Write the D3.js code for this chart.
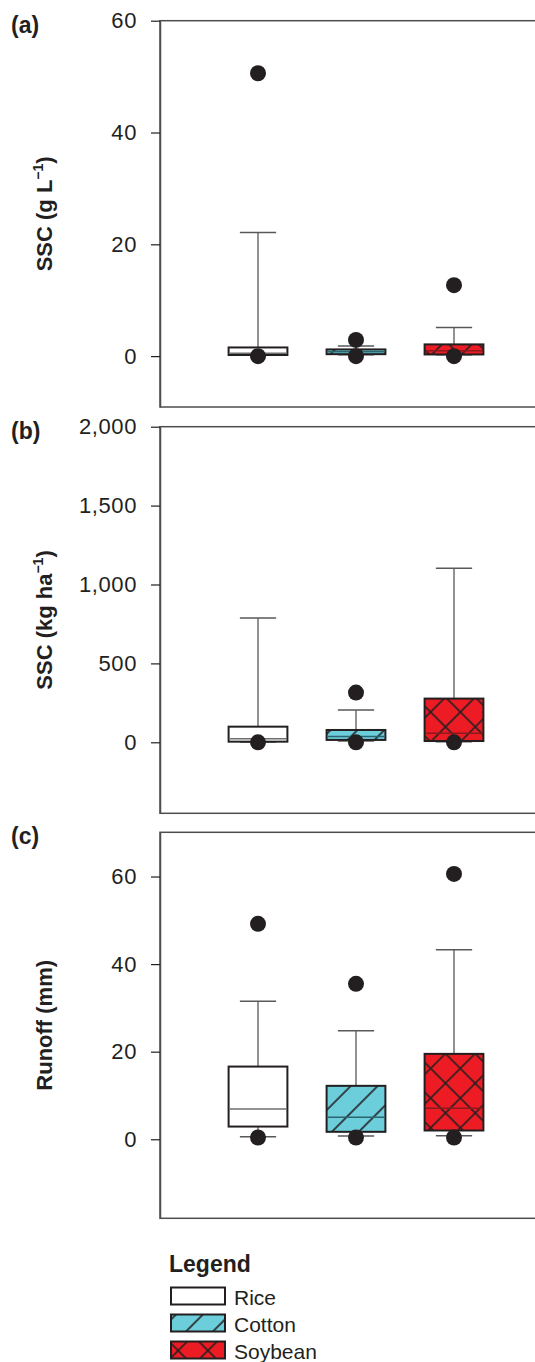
<!DOCTYPE html>
<html>
<head>
<meta charset="utf-8">
<script src="https://cdn.jsdelivr.net/npm/d3@7"></script>
<style>
  body { margin: 0; background: #fff; }
  svg { display: block; }
</style>
</head>
<body>
<div id="chart"></div>
<script>
// crops and the stats of each box: [lowDot, lowWhisker, q1, median, q3, highWhisker, highDot]
var crops = ["Rice", "Cotton", "Soybean"];

// (a) SSC, g/L
var sscConc = [
  [0.0, 0.15, 0.2, 0.5, 1.55, 22.1, 50.6],
  [0.0, 0.25, 0.35, 0.77, 1.2, 1.8, 2.9],
  [0.0, 0.25, 0.3, 0.95, 2.1, 5.1, 12.7]
];
// (b) SSC, kg/ha
var sscLoad = [
  [0, 2, 4, 23, 99, 788, null],
  [0, 8, 15, 36, 78, 205, 315],
  [0, 4, 8, 57, 277, 1103, null]
];
// (c) runoff, mm
var runoff = [
  [0.4, 0.6, 2.9, 6.9, 16.6, 31.5, 49.2],
  [0.4, 0.75, 1.7, 5.0, 12.2, 24.8, 35.5],
  [0.4, 0.8, 2.0, 7.1, 19.5, 43.3, 60.6]
];

var ticksA = [0, 20, 40, 60];
var ticksB = [0, 500, 1000, 1500, 2000];
var ticksC = [0, 20, 40, 60];

var svg = d3.select("#chart")
  .append("svg")
    .attr("width", 535)
    .attr("height", 1362);

var defs = svg.append("defs");

// hatch for cotton
var pc = defs.append("pattern")
    .attr("id", "hatchCotton")
    .attr("patternUnits", "userSpaceOnUse")
    .attr("width", 19).attr("height", 19)
    .attr("patternTransform", "rotate(45)");
pc.append("rect").attr("width", 19).attr("height", 19).attr("fill", "#6ccddb");
pc.append("line").attr("x1", 9).attr("y1", 0).attr("x2", 9).attr("y2", 19)
    .attr("stroke", "#231f20").attr("stroke-width", 1.6);

// cross hatch for soybean
var ps = defs.append("pattern")
    .attr("id", "hatchSoy")
    .attr("patternUnits", "userSpaceOnUse")
    .attr("width", 21).attr("height", 21)
    .attr("patternTransform", "rotate(45)");
ps.append("rect").attr("width", 21).attr("height", 21).attr("fill", "#ed1c24");
ps.append("line").attr("x1", 10).attr("y1", 0).attr("x2", 10).attr("y2", 21)
    .attr("stroke", "#231f20").attr("stroke-width", 1.6);
ps.append("line").attr("x1", 0).attr("y1", 10).attr("x2", 21).attr("y2", 10)
    .attr("stroke", "#231f20").attr("stroke-width", 1.6);

var fills = ["#ffffff", "url(#hatchCotton)", "url(#hatchSoy)"];
var medColor = ["#6d6e71", "#2a6670", "#8a1a1d"];
var font = "'Liberation Sans', Arial, sans-serif";

var x = d3.scaleLinear().domain([0, 4]).range([160, 552]);
var boxW = x(0.6) - x(0);
var capW = x(0.37) - x(0);

var panels = [
  {label: "(a)", top: 20.7, bottom: 407, domain: [-9.1, 60], ticks: ticksA, data: sscConc, fmt: d3.format("d"), title: ["SSC (g L", "\u22121", ")"]},
  {label: "(b)", top: 426.7, bottom: 813.3, domain: [-450, 2000], ticks: ticksB, data: sscLoad, fmt: d3.format(","), title: ["SSC (kg ha", "\u22121", ")"]},
  {label: "(c)", top: 832.3, bottom: 1218.3, domain: [-18.05, 70.1], ticks: ticksC, data: runoff, fmt: d3.format("d"), title: ["Runoff (mm)", "", ""]}
];

panels.forEach(function(p) {
  var y = d3.scaleLinear().domain(p.domain).range([p.bottom, p.top]);
  var g = svg.append("g");

  // frame
  g.append("rect")
    .attr("x", x(0)).attr("y", p.top)
    .attr("width", x(4) - x(0)).attr("height", p.bottom - p.top)
    .attr("fill", "none")
    .attr("stroke", "#4d4d4f")
    .attr("stroke-width", 1.5);

  // y axis
  var ax = g.append("g")
    .attr("transform", "translate(" + x(0) + ",0)")
    .call(d3.axisLeft(y).tickValues(p.ticks).tickFormat(p.fmt)
      .tickSizeInner(9).tickSizeOuter(0).tickPadding(14));
  ax.select(".domain").attr("stroke", "#4d4d4f").attr("stroke-width", 1.5);
  ax.selectAll(".tick line").attr("stroke", "#231f20").attr("stroke-width", 1.2);
  ax.selectAll(".tick text")
    .style("font-family", font)
    .style("font-size", "22px")
    .style("letter-spacing", "0.6px")
    .attr("fill", "#231f20");

  // panel letter
  g.append("text")
    .attr("x", 11).attr("y", p.top + 12)
    .style("font-family", font)
    .style("font-weight", "bold")
    .style("font-size", "23px")
    .attr("fill", "#231f20")
    .text(p.label);

  // y title
  var mid = (p.top + p.bottom) / 2;
  var t = g.append("text")
    .attr("transform", "translate(52," + mid + ") rotate(-90)")
    .attr("text-anchor", "middle")
    .style("font-family", font)
    .style("font-weight", "bold")
    .style("font-size", "22px")
    .attr("fill", "#231f20");
  t.append("tspan").text(p.title[0]);
  if (p.title[1]) {
    t.append("tspan").attr("dy", -9).style("font-size", "14px").text(p.title[1]);
    t.append("tspan").attr("dy", 9).text(p.title[2]);
  }

  // boxes
  p.data.forEach(function(d, i) {
    var cx = x(i + 1);
    var bg = g.append("g");
    // whiskers
    bg.append("line")
      .attr("x1", cx).attr("x2", cx).attr("y1", y(d[4])).attr("y2", y(d[5]))
      .attr("stroke", "#6d6e71").attr("stroke-width", 1.5);
    bg.append("line")
      .attr("x1", cx - capW / 2).attr("x2", cx + capW / 2).attr("y1", y(d[5])).attr("y2", y(d[5]))
      .attr("stroke", "#58595b").attr("stroke-width", 1.5);
    bg.append("line")
      .attr("x1", cx).attr("x2", cx).attr("y1", y(d[2])).attr("y2", y(d[1]))
      .attr("stroke", "#6d6e71").attr("stroke-width", 1.5);
    bg.append("line")
      .attr("x1", cx - capW / 2).attr("x2", cx + capW / 2).attr("y1", y(d[1])).attr("y2", y(d[1]))
      .attr("stroke", "#58595b").attr("stroke-width", 1.5);
    // box
    bg.append("rect")
      .attr("x", cx - boxW / 2).attr("y", y(d[4]))
      .attr("width", boxW).attr("height", y(d[2]) - y(d[4]))
      .attr("fill", fills[i])
      .attr("stroke", "#231f20").attr("stroke-width", 2);
    // median
    bg.append("line")
      .attr("x1", cx - boxW / 2 + 1).attr("x2", cx + boxW / 2 - 1).attr("y1", y(d[3])).attr("y2", y(d[3]))
      .attr("stroke", medColor[i]).attr("stroke-width", 1.5);
    // dots
    [d[0], d[6]].forEach(function(v) {
      if (v === null) return;
      bg.append("circle")
        .attr("cx", cx).attr("cy", y(v)).attr("r", 8)
        .attr("fill", "#231f20");
    });
  });
});

// legend
var lg = svg.append("g");
lg.append("text")
  .attr("x", 169).attr("y", 1272)
  .style("font-family", font)
  .style("font-weight", "bold")
  .style("font-size", "23px")
  .attr("fill", "#231f20")
  .text("Legend");

crops.forEach(function(c, i) {
  var yy = 1287.5 + i * 27;
  lg.append("rect")
    .attr("x", 171).attr("y", yy)
    .attr("width", 54).attr("height", 17)
    .attr("fill", fills[i])
    .attr("stroke", "#231f20").attr("stroke-width", 2);
  lg.append("text")
    .attr("x", 234).attr("y", yy + 17.5)
    .style("font-family", font)
    .style("font-size", "21px")
    .attr("fill", "#231f20")
    .text(c);
});
</script>
</body>
</html>
